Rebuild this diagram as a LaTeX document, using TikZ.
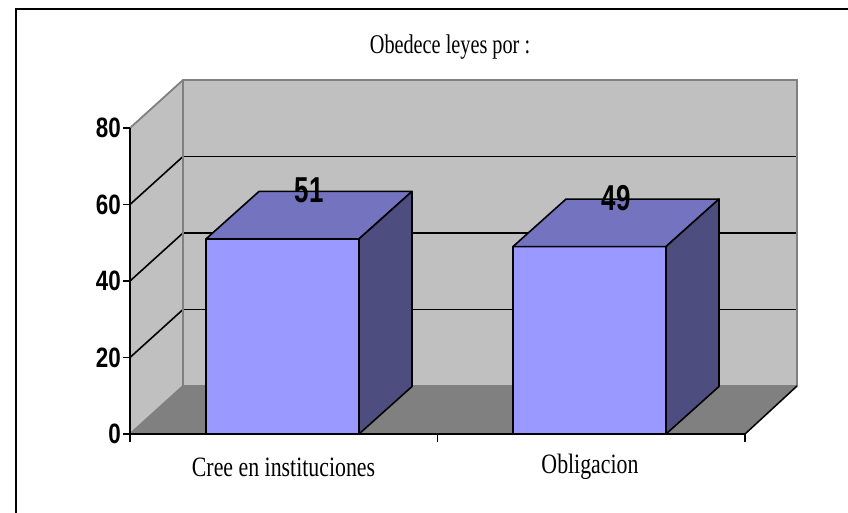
\documentclass[tikz,border=0pt]{standalone}
\usepackage{fontspec}
\usepackage{graphicx}
\setmainfont{Liberation Serif}
\newfontfamily\arialf{Liberation Sans}
\definecolor{wallc}{HTML}{C0C0C0}
\definecolor{floorc}{HTML}{808080}
\definecolor{edgec}{HTML}{808080}
\definecolor{barfront}{HTML}{9999FF}
\definecolor{bartop}{HTML}{7373BF}
\definecolor{barside}{HTML}{4D4D80}
\tikzset{
  gridl/.style={black, line width=1.6pt},
  wedge/.style={edgec, line width=1.8pt},
  axisl/.style={black, line width=2.4pt},
  tickl/.style={black, line width=1.8pt},
  barface/.style={draw=black, line width=1.6pt, line join=round},
  ylab/.style={anchor=east, inner sep=0pt, font=\arialf\bfseries\fontsize{28}{28}\selectfont},
  vlab/.style={inner sep=0pt, font=\arialf\bfseries\fontsize{36}{36}\selectfont},
  catlab/.style={inner sep=0pt, font=\fontsize{28}{28}\selectfont},
}
\begin{document}
\begin{tikzpicture}[x=1pt, y=-1pt]
\useasboundingbox (0,0) rectangle (848,512);
% outer frame
\draw[black, line width=2.2pt] (16,520) -- (16,9) -- (856,9);
% walls
\fill[wallc] (183,80) rectangle (797,386);
\fill[wallc] (130,128) -- (183,80) -- (183,386) -- (130,434) -- cycle;
\fill[floorc] (130,434) -- (745,434) -- (797,386) -- (183,386) -- cycle;
% gridlines back wall
\foreach \v in {20,40,60} {
  \pgfmathsetmacro{\yb}{386-\v*3.825}
  \pgfmathsetmacro{\yf}{434-\v*3.825}
  \draw[gridl] (183,\yb) -- (797,\yb);
  \draw[gridl] (130,\yf) -- (183,\yb);
}
% wall edges
\draw[wedge] (130,128) -- (183,80) -- (797,80) -- (797,386);
\draw[wedge] (183,80) -- (183,386);
\draw[wedge] (130,434) -- (183,386) -- (797,386);
\draw[black, line width=1.5pt] (745,434) -- (797,386);
% axes
\coordinate (ytop) at (130,128);
\coordinate (origin) at (130,434);
\coordinate (xend) at (745,434);
\draw[axisl] (ytop) -- (origin) -- (xend);
% y ticks and labels
\foreach \v in {0,20,40,60,80} {
  \pgfmathsetmacro{\yf}{434-\v*3.825}
  \draw[tickl] (123,\yf) -- (130,\yf);
  \node[ylab] (y\v) at (121,\yf) {\scalebox{0.8}[1]{\v}};
}
% category ticks
\foreach \x in {130,437.5,745} {
  \draw[tickl] (\x,434) -- (\x,442);
}
% bar 1 (51)
\pgfmathsetmacro{\ta}{434-51*3.825}
\fill[barfront, barface] (206,434) rectangle (359,\ta);
\fill[bartop, barface] (206,\ta) -- (259,\ta-47.5) -- (412,\ta-47.5) -- (359,\ta) -- cycle;
\fill[barside, barface] (359,\ta) -- (412,\ta-47.5) -- (412,386.5) -- (359,434) -- cycle;
\node[vlab] (v51) at (309,190) {\scalebox{0.72}[1]{51}};
% bar 2 (49)
\pgfmathsetmacro{\tb}{434-49*3.825}
\fill[barfront, barface] (513,434) rectangle (666,\tb);
\fill[bartop, barface] (513,\tb) -- (566,\tb-47.5) -- (719,\tb-47.5) -- (666,\tb) -- cycle;
\fill[barside, barface] (666,\tb) -- (719,\tb-47.5) -- (719,386.5) -- (666,434) -- cycle;
\node[vlab] (v49) at (616,198) {\scalebox{0.72}[1]{49}};
% redraw front axis line over bars
\draw[axisl] (origin) -- (xend);
% labels
\node[catlab] (c1) at (283.5,467) {\scalebox{0.78}[1]{Cree en instituciones}};
\node[catlab] (c2) at (590,467) {\scalebox{0.78}[1]{Obligacion}};
\node[inner sep=0pt, font=\fontsize{27}{27}\selectfont] (title) at (450,47) {\scalebox{0.75}[1]{Obedece leyes por :}};
\end{tikzpicture}
\end{document}
